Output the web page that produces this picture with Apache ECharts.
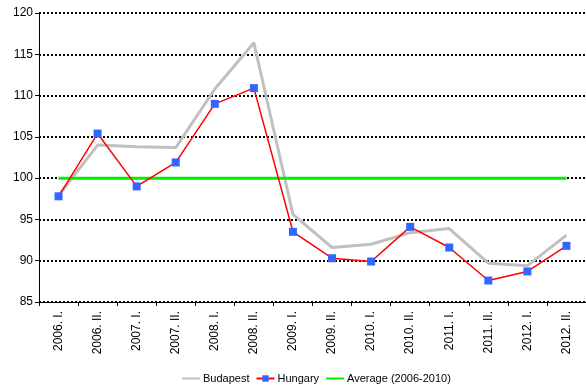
<!DOCTYPE html>
<html>
<head>
<meta charset="utf-8">
<script src="https://cdn.jsdelivr.net/npm/echarts@6/dist/echarts.min.js"></script>
<style>
  html, body { margin: 0; padding: 0; background: #fff; }
  #chart { width: 586px; height: 385px; }
</style>
</head>
<body>
<div id="chart"></div>
<script>
// Half-year periods
const periods = ['2006. I.', '2006. II.', '2007. I.', '2007. II.', '2008. I.', '2008. II.',
  '2009. I.', '2009. II.', '2010. I.', '2010. II.', '2011. I.', '2011. II.', '2012. I.', '2012. II.'];

// Index values per period
const budapest = [97.9, 104.0, 103.8, 103.7, 110.8, 116.4, 95.6, 91.6, 92.0, 93.4, 93.9, 89.7, 89.4, 93.1];
const hungary  = [97.8, 105.4, 99.0, 101.9, 109.0, 110.9, 93.5, 90.3, 89.9, 94.1, 91.6, 87.6, 88.7, 91.8];
const averageLevel = 100;
const average = periods.map(() => averageLevel);

// Value axis range
const yMin = 85, yMax = 120, yStep = 5;

const chart = echarts.init(document.getElementById('chart'), null, { renderer: 'canvas' });

const baseFont = 'Arial, "Liberation Sans", sans-serif';

chart.setOption({
  animation: false,
  backgroundColor: '#ffffff',
  grid: { left: 39, top: 13, width: 550, bottom: 83, containLabel: false },
  legend: {
    top: 368,
    left: 176,
    itemWidth: 18,
    itemHeight: 8,
    itemGap: 6,
    textStyle: { fontFamily: baseFont, fontSize: 11, color: '#000', padding: [0, 0, 0, -2] },
    data: [
      // plain line keys: hide the default marker drawn on the key
      { name: 'Budapest', itemStyle: { opacity: 0 } },
      { name: 'Hungary' },
      { name: 'Average (2006-2010)', itemStyle: { opacity: 0 } }
    ]
  },
  xAxis: {
    type: 'category',
    data: periods,
    boundaryGap: true,
    axisLine: { lineStyle: { color: '#000', width: 1 } },
    axisTick: { show: true, length: 4, lineStyle: { color: '#000' } },
    axisLabel: { rotate: 90, interval: 0, margin: 9, fontFamily: baseFont, fontSize: 12, color: '#000' },
    splitLine: { show: false }
  },
  yAxis: {
    type: 'value',
    min: yMin, max: yMax, interval: yStep,
    axisLine: { show: true, lineStyle: { color: '#000', width: 1 } },
    axisTick: { show: true, length: 4, lineStyle: { color: '#000' } },
    axisLabel: { margin: 6, fontFamily: baseFont, fontSize: 12, color: '#000' },
    splitLine: { show: true, lineStyle: { color: '#000', width: 2, type: [2, 2] } }
  },
  series: [
    {
      name: 'Budapest',
      type: 'line',
      data: budapest,
      symbol: 'none',
      lineStyle: { color: '#c0c0c0', width: 3 },
      itemStyle: { color: '#c0c0c0' },
      z: 2
    },
    {
      name: 'Hungary',
      type: 'line',
      data: hungary,
      symbol: 'rect',
      symbolSize: 8,
      lineStyle: { color: '#ff0000', width: 1.5 },
      itemStyle: { color: '#3366ff', borderWidth: 0 },
      z: 4
    },
    {
      name: 'Average (2006-2010)',
      type: 'line',
      data: average,
      symbol: 'none',
      lineStyle: { color: '#00f000', width: 3 },
      itemStyle: { color: '#00f000' },
      z: 3
    }
  ]
});
</script>
</body>
</html>
